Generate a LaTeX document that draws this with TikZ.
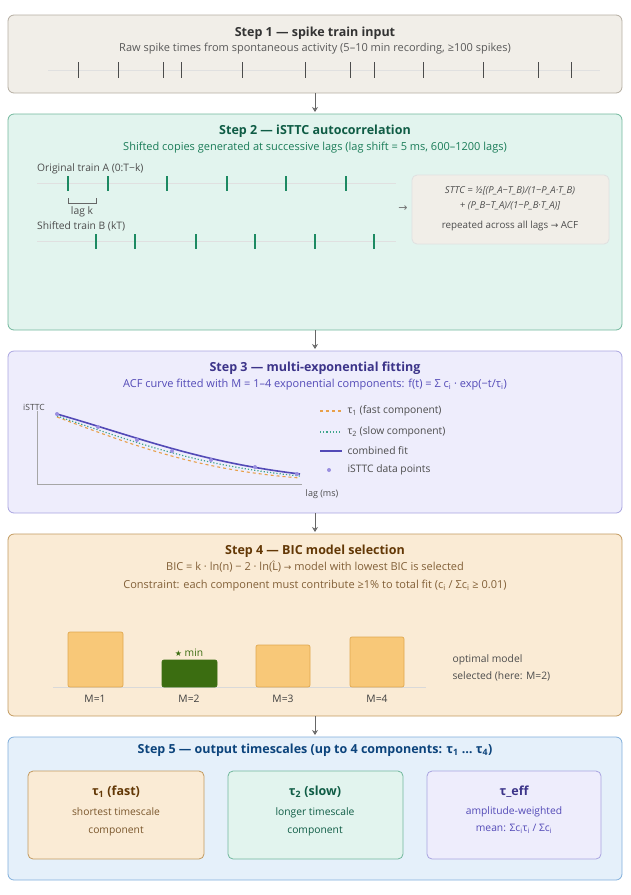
\documentclass[tikz,border=0pt]{standalone}
\usepackage{fontspec}
\setmainfont{Open Sans}
\newfontfamily\symfont{DejaVu Sans}
\newcommand{\rarr}{{\symfont\fontsize{9}{9}\selectfont →}}
\usetikzlibrary{positioning,arrows.meta,calc}
\definecolor{sandfill}{HTML}{F1EEE8}\definecolor{sanddraw}{HTML}{B5AEA2}
\definecolor{greenfill}{HTML}{E2F4EE}\definecolor{greendraw}{HTML}{72B89D}\definecolor{greentext}{HTML}{0F5C45}
\definecolor{tick}{HTML}{1D8A62}
\definecolor{purpfill}{HTML}{EEEDFC}\definecolor{purpdraw}{HTML}{A9A4E0}\definecolor{purptext}{HTML}{3C3489}
\definecolor{fitline}{HTML}{534AB7}\definecolor{dotc}{HTML}{9A8FE0}
\definecolor{orfill}{HTML}{FAEBD5}\definecolor{ordraw}{HTML}{C29A5F}\definecolor{ortext}{HTML}{633806}
\definecolor{barfill}{HTML}{F8C878}\definecolor{bardraw}{HTML}{E0A850}\definecolor{bargreen}{HTML}{3B6D11}
\definecolor{bluefill}{HTML}{E5F0FA}\definecolor{bluedraw}{HTML}{7FAEDB}\definecolor{bluetext}{HTML}{0C447C}
\definecolor{fast}{HTML}{E8A04A}\definecolor{slow}{HTML}{3FA58A}
\tikzset{
	stage/.style={rounded corners=6pt, line width=0.8pt},
	title/.style={font=\fontsize{12.5}{14}\selectfont\bfseries, anchor=center},
	sub/.style={font=\fontsize{11}{12}\selectfont, anchor=center},
	small/.style={font=\fontsize{10.3}{11}\selectfont, text=black!70},
	spike/.style={line width=1.1pt},
	train/.style={color=black!12, line width=0.8pt},
	flow/.style={->,>={Stealth[width=6pt,length=5pt,open]}, color=black!60, line width=0.8pt},
	bar/.style={fill=barfill, draw=bardraw, rounded corners=2pt, line width=0.7pt},
	card/.style={rounded corners=5pt, line width=0.8pt}
}
\begin{document}
\begin{tikzpicture}[x=1pt,y=-1pt]
\useasboundingbox (0,0) rectangle (631,895);
%%%% stage boxes
\draw[stage, fill=sandfill, draw=sanddraw] (8,15) rectangle (622,93);
\draw[stage, fill=greenfill, draw=greendraw] (8,114) rectangle (622,330);
\draw[stage, fill=purpfill, draw=purpdraw] (8,351) rectangle (622,513);
\draw[stage, fill=orfill, draw=ordraw] (8,534) rectangle (622,716);
\draw[stage, fill=bluefill, draw=bluedraw] (8,737) rectangle (622,880);
\coordinate (s1b) at (315,93); \coordinate (s2t) at (315,112);
\coordinate (s2b) at (315,330); \coordinate (s3t) at (315,349);
\coordinate (s3b) at (315,513); \coordinate (s4t) at (315,532);
\coordinate (s4b) at (315,716); \coordinate (s5t) at (315,735);
\draw[flow] (s1b) -- (s2t);
\draw[flow] (s2b) -- (s3t);
\draw[flow] (s3b) -- (s4t);
\draw[flow] (s4b) -- (s5t);

%%%% Step 1
\node[title, text=black!80] (t1) at (315,33) {Step 1 — spike train input};
\node[sub, text=black!65] (u1) at (315,49) {Raw spike times from spontaneous activity (5–10 min recording, ≥100 spikes)};
\draw[train] (48,70) -- (600,70);
\foreach \x in {78,118,163,181,242,305,350,374,423,483,538,571}
	\draw[spike, black!70, line width=0.8pt] (\x,62) -- (\x,78);

%%%% Step 2
\node[title, text=greentext] (t2) at (315,131) {Step 2 — iSTTC autocorrelation};
\node[sub, text=tick!90!black] (u2) at (315,148) {Shifted copies generated at successive lags (lag shift = 5 ms, 600–1200 lags)};
\node[small, anchor=west, inner sep=0] (la) at (37,169) {Original train A (0:T−k)};
\draw[train] (37,183) -- (396,183);
\foreach \x in {68,108,167,227,286,346}
	\draw[spike, tick] (\x,176) -- (\x,191);
\draw[black!60, line width=0.6pt] (68,198) -- (68,203) -- (96,203) -- (96,198);
\node[small, inner sep=0] (lk) at (82,212) {lag k};
\node[small, anchor=west, inner sep=0] (lb) at (37,226) {Shifted train B (kT)};
\draw[train] (37,241) -- (396,241);
\foreach \x in {96,135,196,255,315,374}
	\draw[spike, tick] (\x,234) -- (\x,249);
\node[text=black!55, font=\symfont\fontsize{11}{11}\selectfont] (ar) at (403,209) {→};
\draw[fill=sandfill, draw=black!12, rounded corners=5pt, line width=0.8pt] (412,175) rectangle (609,244);
\node[small, align=center, font=\fontsize{9.5}{15}\selectfont\itshape] (form) at (510,198)
	{STTC = ½[(P\_A−T\_B)/(1−P\_A·T\_B)\\+ (P\_B−T\_A)/(1−P\_B·T\_A)]};
\node[small, font=\fontsize{9.8}{11}\selectfont] (rep) at (510,226) {repeated across all lags \rarr{} ACF};

%%%% Step 3
\node[title, text=purptext] (t3) at (315,368) {Step 3 — multi-exponential fitting};
\node[sub, text=fitline] (u3) at (315,385) {ACF curve fitted with M = 1–4 exponential components: f(t) = Σ c\textsubscript{i} · exp(−t/τ\textsubscript{i})};
\node[small, font=\fontsize{8.5}{9}\selectfont, anchor=west, inner sep=0] (yl) at (23,407) {iSTTC};
\node[small, font=\fontsize{9}{9}\selectfont, inner sep=0] (xl) at (322,494) {lag (ms)};
\draw[black!35, line width=0.7pt] (37,411) -- (37,484) -- (302,484);
\draw[fast, dashed, line width=1.1pt] (57,417) .. controls (140,448) and (200,470) .. (300,478);
\draw[slow, dotted, line width=1.2pt] (57,416) .. controls (140,444) and (200,466) .. (300,476);
\draw[fitline, line width=1.6pt] (57,414) .. controls (140,438) and (200,462) .. (300,474);
\foreach \x/\y in {57/414,98/427,137/440,172/451,211/460,255/467,297/474}
	\fill[dotc] (\x,\y) circle (2pt);
\draw[fast, dashed, line width=1.1pt] (320,411) -- (342,411);
\node[small, anchor=west] (l1) at (344,411) {τ\textsubscript{1} (fast component)};
\draw[slow, dotted, line width=1.2pt] (320,432) -- (342,432);
\node[small, anchor=west] (l2) at (344,432) {τ\textsubscript{2} (slow component)};
\draw[fitline, line width=1.6pt] (320,451) -- (342,451);
\node[small, anchor=west] (l3) at (344,451) {combined fit};
\fill[dotc] (329,470) circle (2pt);
\node[small, anchor=west] (l4) at (344,470) {iSTTC data points};

%%%% Step 4
\node[title, text=ortext] (t4) at (315,551) {Step 4 — BIC model selection};
\node[sub, text=ortext!80] (u4) at (315,567) {BIC = k · ln(n) − 2 · ln({\symfont\fontsize{10}{11}\selectfont L̂}) \rarr{} model with lowest BIC is selected};
\node[sub, text=ortext!80] (v4) at (315,586) {Constraint: each component must contribute ≥1\% to total fit (c\textsubscript{i} / Σc\textsubscript{i} ≥ 0.01)};
\draw[black!15, line width=1pt] (53,687) -- (426,687);
\draw[bar] (68,632) rectangle (123,687);
\draw[bar, fill=bargreen, draw=bargreen] (162,660) rectangle (217,687);
\draw[bar] (256,645) rectangle (310,687);
\draw[bar] (350,637) rectangle (404,687);
\node[small, text=black!75] (m1) at (95,699) {M=1};
\node[small, text=black!75] (m2) at (189,699) {M=2};
\node[small, text=black!75] (m3) at (283,699) {M=3};
\node[small, text=black!75] (m4) at (377,699) {M=4};
\node[small, text=bargreen] (mn) at (189,653) {{\symfont\fontsize{8}{9}\selectfont ★} min};
\node[small, align=left, anchor=west, font=\fontsize{10.3}{17}\selectfont] (opt) at (449,668) {optimal model\\selected (here: M=2)};

%%%% Step 5
\node[title, text=bluetext] (t5) at (315,750) {Step 5 — output timescales (up to 4 components: τ\textsubscript{1} … τ\textsubscript{4})};
\draw[card, fill=orfill, draw=ordraw] (28,771) rectangle (204,859);
\draw[card, fill=greenfill, draw=greendraw] (228,771) rectangle (403,859);
\draw[card, fill=purpfill, draw=purpdraw] (427,771) rectangle (601,859);
\node[title, text=ortext] (c1) at (116,792) {τ\textsubscript{1} (fast)};
\node[small, text=ortext!85, align=center, font=\fontsize{10.3}{18}\selectfont] (d1) at (116,822) {shortest timescale\\component};
\node[title, text=greentext] (c2) at (315,792) {τ\textsubscript{2} (slow)};
\node[small, text=greentext, align=center, font=\fontsize{10.3}{18}\selectfont] (d2) at (315,822) {longer timescale\\component};
\node[title, text=purptext] (c3) at (514,792) {τ\_eff};
\node[small, text=fitline, align=center, font=\fontsize{10.3}{17}\selectfont] (d3) at (514,820) {amplitude-weighted\\mean: Σc\textsubscript{i}τ\textsubscript{i} / Σc\textsubscript{i}};
\end{tikzpicture}
\end{document}
